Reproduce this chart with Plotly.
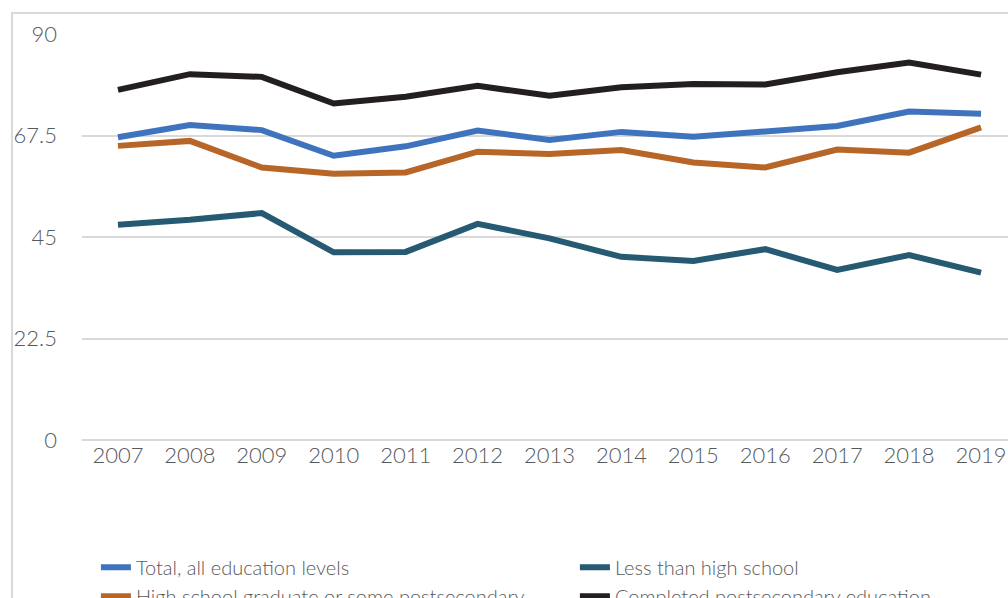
import plotly.graph_objects as go

years = ["2007", "2008", "2009", "2010", "2011", "2012", "2013",
         "2014", "2015", "2016", "2017", "2018", "2019"]

total_all = [67.1, 69.8, 68.7, 63.0, 65.1, 68.6, 66.5, 68.3, 67.2, 68.3, 69.6, 72.8, 72.3]
less_than_hs = [47.7, 48.8, 50.3, 41.6, 41.7, 47.9, 44.7, 40.6, 39.7, 42.3, 37.7, 41.0, 37.1]
hs_grad = [65.2, 66.3, 60.4, 59.0, 59.3, 63.9, 63.4, 64.3, 61.5, 60.4, 64.4, 63.7, 69.3]
completed_post = [77.6, 81.1, 80.5, 74.6, 76.1, 78.5, 76.3, 78.2, 78.9, 78.8, 81.5, 83.7, 81.0]

y_ticks = [0, 22.5, 45, 67.5, 90]
y_tick_labels = ["0", "22.5", "45", "67.5", "90"]

series = [
    ("Total, all education levels", total_all, "#3F73BE"),
    ("Less than high school", less_than_hs, "#255A72"),
    ("High school graduate or some postsecondary", hs_grad, "#B76628"),
    ("Completed postsecondary education", completed_post, "#231F20"),
]

FONT = "Lato"
GRAY = "#595959"

fig = go.Figure()
for name, vals, color in series:
    fig.add_trace(go.Scatter(
        x=list(range(len(years))), y=vals, name=name, mode="lines",
        line=dict(color=color, width=6),
    ))

fig.update_layout(
    width=1008, height=598,
    margin=dict(l=82, r=0, t=34, b=158, autoexpand=False),
    paper_bgcolor="white", plot_bgcolor="white",
    font=dict(family=FONT, color=GRAY, size=22, weight=300),
    showlegend=True,
    legend=dict(
        orientation="h", x=-0.0001, xanchor="left", y=-0.231, yanchor="top",
        entrywidth=434, entrywidthmode="pixels",
        font=dict(size=20, color=GRAY, family=FONT, weight=300),
        itemwidth=30, tracegroupgap=0, bgcolor="rgba(0,0,0,0)",
        borderwidth=14, bordercolor="rgba(0,0,0,0)",
    ),
    xaxis=dict(
        tickmode="array", tickvals=list(range(len(years))), ticktext=years,
        range=[-0.5, 12.375], showgrid=False, zeroline=False, showline=False,
        ticks="", tickfont=dict(size=22, color=GRAY, family=FONT, weight=300),
    ),
    yaxis=dict(
        range=[0, 90], tickmode="array", tickvals=y_ticks, ticktext=y_tick_labels,
        showgrid=True, gridcolor="#D9D9D9", gridwidth=2,
        zeroline=True, zerolinecolor="#D9D9D9", zerolinewidth=2,
        showline=False, ticks="", ticklabelstandoff=24,
        tickfont=dict(size=22, color=GRAY, family=FONT, weight=300),
    ),
    shapes=[dict(
        type="rect", xref="paper", yref="paper",
        x0=(12 - 82) / 926, x1=1.2, y0=-0.6, y1=(598 - 13 - 158) / 406,
        line=dict(color="#D9D9D9", width=2), fillcolor="rgba(0,0,0,0)", layer="below",
    )],
)

fig.write_html("out.html")
